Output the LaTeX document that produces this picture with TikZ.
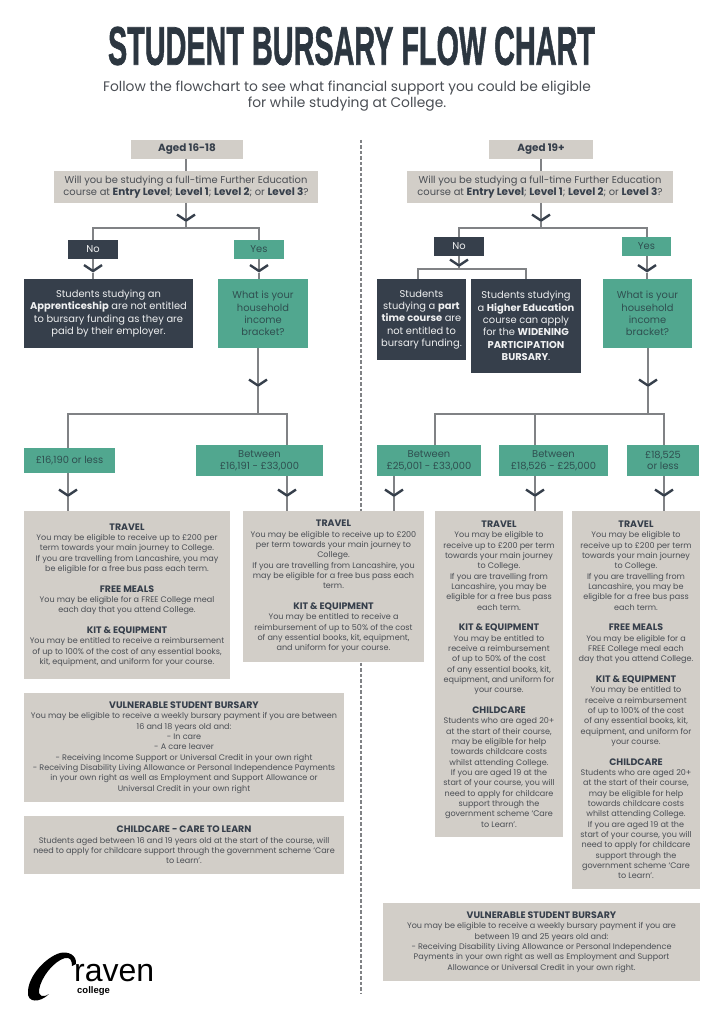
\documentclass[tikz,border=0pt]{standalone}
\usepackage{fontspec}
\usepackage{graphicx}
\setmainfont{Poppins}
\newfontfamily\logofont{Liberation Sans}
\newfontfamily\titlefont[FakeBold=1.5]{Liberation Sans Bold}
\usetikzlibrary{arrows.meta,calc}
\definecolor{beige}{HTML}{D2CEC8}
\definecolor{darkbox}{HTML}{363F4B}
\definecolor{greenbox}{HTML}{51A78F}
\definecolor{wirecol}{HTML}{808285}
\definecolor{bodytxt}{HTML}{4A4E54}
\definecolor{greentxt}{HTML}{2F4F50}
\definecolor{titlecol}{HTML}{2C3640}
\newcommand{\hd}[1]{{\fontsize{9.4}{10.33}\bfseries\selectfont\color{darkbox}#1}}
\newcommand{\lv}[1]{{\fontsize{10.4}{11.5}\bfseries\selectfont\color{darkbox}#1}}
\tikzset{
  x=1pt,y=-1pt,
  boxbase/.style={anchor=north west,inner sep=0pt,outer sep=0pt,align=center},
  size/.style 2 args={minimum width=#1 pt,minimum height=#2 pt},
  beigebox/.style={boxbase,fill=beige,text=bodytxt,font=\fontsize{9.9}{12.3}\selectfont},
  agebox/.style={boxbase,fill=beige,text=darkbox,font=\fontsize{10.4}{11.8}\bfseries\selectfont},
  darkcard/.style={boxbase,fill=darkbox,text=white!92!darkbox,font=\fontsize{9.9}{12.4}\selectfont},
  greencard/.style={boxbase,fill=greenbox,text=greentxt,font=\fontsize{9.9}{12.4}\selectfont},
  bracket/.style={greencard,font=\fontsize{9.9}{11.6}\selectfont},
  infobox/.style={boxbase,fill=beige,text=bodytxt,font=\fontsize{8.05}{10.33}\selectfont,execute at begin node={\rule{0pt}{11pt}}},
  wire/.style={draw=wirecol,line width=1.5pt},
  flow/.style={wire,-{Straight Barb[length=6pt,width=18pt,line width=2.4pt,color=darkbox]}},
}
\begin{document}
\begin{tikzpicture}
\useasboundingbox (0,0) rectangle (724,1024);
% divider
\coordinate (divtop) at (361,140);
\coordinate (divbot) at (361,993);
\draw[wirecol,line width=1.3pt,dash pattern=on 3.5pt off 2pt] (divtop) -- (divbot);
% title
\node[inner sep=0pt,text=titlecol] (title) at (351.5,46) {\resizebox{487pt}{38pt}{\titlefont STUDENT BURSARY FLOW CHART}};
\node[inner sep=0pt,align=center,text=bodytxt,font=\fontsize{13.8}{16}\selectfont] (sub) at (347,96.5) {Follow the flowchart to see what financial support you could be eligible\\for while studying at College.};
% LEFT
\node[agebox,size={112}{19}] (age1) at (131,140) {Aged 16-18};
\node[beigebox,size={264}{32}] (q1) at (54,171) {Will you be studying a full-time Further Education\\course at \lv{Entry Level}; \lv{Level 1}; \lv{Level 2}; or \lv{Level 3}?};
\node[darkcard,size={50}{19}] (no1) at (68,240) {No};
\node[greencard,size={50}{19}] (yes1) at (234,240) {Yes};
\node[darkcard,size={169}{69}] (d1) at (24,279) {Students studying an\\\textbf{Apprenticeship} are not entitled\\to bursary funding as they are\\paid by their employer.};
\node[greencard,size={90}{69}] (g1) at (218,279) {What is your\\household\\income\\bracket?};
\node[greencard,size={91}{25}] (a1) at (24,448) {£16,190 or less};
\node[bracket,size={127}{31}] (a2) at (196,445) {Between\\£16,191 - £33,000};
% RIGHT
\node[agebox,size={104}{19}] (age2) at (489,140) {Aged 19+};
\node[beigebox,size={266}{32}] (q2) at (407,171) {Will you be studying a full-time Further Education\\course at \lv{Entry Level}; \lv{Level 1}; \lv{Level 2}; or \lv{Level 3}?};
\node[darkcard,size={50}{19}] (no2) at (434,237) {No};
\node[greencard,size={49}{19}] (yes2) at (622,237) {Yes};
\node[darkcard,size={89}{81}] (d2) at (377,279) {Students\\studying a \textbf{part}\\\textbf{time course} are\\not entitled to\\bursary funding.};
\node[darkcard,size={110}{94}] (d3) at (471,279) {Students studying\\a \textbf{Higher Education}\\course can apply\\for the \textbf{WIDENING}\\\textbf{PARTICIPATION}\\\textbf{BURSARY}.};
\node[greencard,size={89}{69}] (g2) at (603,279) {What is your\\household\\income\\bracket?};
\node[bracket,size={104}{31}] (b25) at (377,445) {Between\\£25,001 - £33,000};
\node[bracket,size={109}{31}] (b18) at (499,445) {Between\\£18,526 - £25,000};
\node[bracket,size={72}{31}] (b185) at (627,445) {£18,525\\or less};
% INFO
\node[infobox,size={206}{168}] (i1) at (24,511) {\hd{TRAVEL}\\You may be eligible to receive up to £200 per\\term towards your main journey to College.\\If you are travelling from Lancashire, you may\\be eligible for a free bus pass each term.\\[10.33pt]\hd{FREE MEALS}\\You may be eligible for a FREE College meal\\each day that you attend College.\\[10.33pt]\hd{KIT \& EQUIPMENT}\\You may be entitled to receive a reimbursement\\of up to 100\% of the cost of any essential books,\\kit, equipment, and uniform for your course.};
\node[infobox,size={181}{151}] (i2) at (243,511) {\hd{TRAVEL}\\You may be eligible to receive up to £200\\per term towards your main journey to\\College.\\If you are travelling from Lancashire, you\\may be eligible for a free bus pass each\\term.\\[10.33pt]\hd{KIT \& EQUIPMENT}\\You may be entitled to receive a\\reimbursement of up to 50\% of the cost\\of any essential books, kit, equipment,\\and uniform for your course.};
\node[infobox,size={128}{326}] (i3) at (435,511) {\hd{TRAVEL}\\You may be eligible to\\receive up to £200 per term\\towards your main journey\\to College.\\If you are travelling from\\Lancashire, you may be\\eligible for a free bus pass\\each term.\\[10.33pt]\hd{KIT \& EQUIPMENT}\\You may be entitled to\\receive a reimbursement\\of up to 50\% of the cost\\of any essential books, kit,\\equipment, and uniform for\\your course.\\[10.33pt]\hd{CHILDCARE}\\Students who are aged 20+\\at the start of their course,\\may be eligible for help\\towards childcare costs\\whilst attending College.\\If you are aged 19 at the\\start of your course, you will\\need to apply for childcare\\support through the\\government scheme `Care\\to Learn'.};
\node[infobox,size={128}{378}] (i4) at (572,511) {\hd{TRAVEL}\\You may be eligible to\\receive up to £200 per term\\towards your main journey\\to College.\\If you are travelling from\\Lancashire, you may be\\eligible for a free bus pass\\each term.\\[10.33pt]\hd{FREE MEALS}\\You may be eligible for a\\FREE College meal each\\day that you attend College.\\[10.33pt]\hd{KIT \& EQUIPMENT}\\You may be entitled to\\receive a reimbursement\\of up to 100\% of the cost\\of any essential books, kit,\\equipment, and uniform for\\your course.\\[10.33pt]\hd{CHILDCARE}\\Students who are aged 20+\\at the start of their course,\\may be eligible for help\\towards childcare costs\\whilst attending College.\\If you are aged 19 at the\\start of your course, you will\\need to apply for childcare\\support through the\\government scheme `Care\\to Learn'.};
\node[infobox,size={320}{109}] (v1) at (24,693) {\hd{VULNERABLE STUDENT BURSARY}\\You may be eligible to receive a weekly bursary payment if you are between\\16 and 18 years old and:\\- In care\\- A care leaver\\- Receiving Income Support or Universal Credit in your own right\\- Receiving Disability Living Allowance or Personal Independence Payments\\in your own right as well as Employment and Support Allowance or\\Universal Credit in your own right};
\node[infobox,size={320}{58}] (c1) at (24,816) {\hd{CHILDCARE - CARE TO LEARN}\\Students aged between 16 and 19 years old at the start of the course, will\\need to apply for childcare support through the government scheme `Care\\to Learn'.};
\node[infobox,size={317}{78}] (v2) at (383,903) {\hd{VULNERABLE STUDENT BURSARY}\\You may be eligible to receive a weekly bursary payment if you are\\between 19 and 25 years old and:\\- Receiving Disability Living Allowance or Personal Independence\\Payments in your own right as well as Employment and Support\\Allowance or Universal Credit in your own right.};
% junctions and chevron tips
\coordinate (t1) at (186,222); \coordinate (j1) at (186,228);
\coordinate (t2) at (93,272.5); \coordinate (t2b) at (259,272.5);
\coordinate (t3) at (258,387); \coordinate (j3) at (258,414);
\coordinate (j3a) at (68,414); \coordinate (j3b) at (287,414);
\coordinate (t4) at (68,497); \coordinate (t5) at (287,497);
\coordinate (t6) at (541,222); \coordinate (j6) at (541,228);
\coordinate (t7) at (459,267); \coordinate (j7) at (459,269);
\coordinate (j7a) at (418,269); \coordinate (j7b) at (526,269);
\coordinate (t7b) at (647,272.5);
\coordinate (t8) at (648,387); \coordinate (j8) at (648,414);
\coordinate (j8a) at (435,414); \coordinate (j8b) at (535,414); \coordinate (j8c) at (664,414);
\coordinate (t9) at (394,497); \coordinate (t10) at (535,497); \coordinate (t11) at (664,497);
% left connectors
\draw[wire] (age1.south -| t1) -- (q1.north -| t1);
\draw[flow] (q1.south -| t1) -- (t1);
\draw[wire] (t1) -- (j1);
\draw[wire] (no1.north -| t2) |- (j1) -| (yes1.north -| t2b);
\draw[flow] (no1.south -| t2) -- (t2);
\draw[wire] (t2) -- (d1.north -| t2);
\draw[flow] (yes1.south -| t2b) -- (t2b);
\draw[wire] (t2b) -- (g1.north -| t2b);
\draw[flow] (g1.south -| t3) -- (t3);
\draw[wire] (t3) -- (j3);
\draw[wire] (a1.north -| j3a) -- (j3a) -- (j3b) -- (a2.north -| j3b);
\draw[flow] (a1.south -| t4) -- (t4);
\draw[wire] (t4) -- (i1.north -| t4);
\draw[flow] (a2.south -| t5) -- (t5);
\draw[wire] (t5) -- (i2.north -| t5);
% right connectors
\draw[wire] (age2.south -| t6) -- (q2.north -| t6);
\draw[flow] (q2.south -| t6) -- (t6);
\draw[wire] (t6) -- (j6);
\draw[wire] (no2.north -| t7) |- (j6) -| (yes2.north -| t7b);
\draw[flow] (no2.south -| t7) -- (t7);
\draw[wire] (t7) -- (j7);
\draw[wire] (d2.north -| j7a) -- (j7a) -- (j7b) -- (d3.north -| j7b);
\draw[flow] (yes2.south -| t7b) -- (t7b);
\draw[wire] (t7b) -- (g2.north -| t7b);
\draw[flow] (g2.south -| t8) -- (t8);
\draw[wire] (t8) -- (j8);
\draw[wire] (b25.north -| j8a) -- (j8a) -- (j8c) -- (b185.north -| j8c);
\draw[wire] (j8b) -- (b18.north -| j8b);
\draw[flow] (b25.south -| t9) -- (t9);
\draw[wire] (t9) -- (i2.north -| t9);
\draw[flow] (b18.south -| t10) -- (t10);
\draw[wire] (t10) -- (i3.north -| t10);
\draw[flow] (b185.south -| t11) -- (t11);
\draw[wire] (t11) -- (i4.north -| t11);
% logo
\fill[black] (76,964) .. controls (77,955) and (68,951) .. (60,953) .. controls (46,957) and (28,976) .. (28,992) .. controls (27,1003) and (40,1003) .. (49,994) .. controls (43,998) and (38,996) .. (39,990) .. controls (41,977) and (54,961) .. (65,958) .. controls (70,957) and (72,960) .. (72,966) -- cycle;
\node[anchor=base west,inner sep=0pt,font=\logofont\fontsize{32}{32}\selectfont] (logoa) at (74,981) {raven};
\node[anchor=base west,inner sep=0pt,font=\logofont\bfseries\fontsize{9.5}{10}\selectfont] (logob) at (77,993) {college};
\end{tikzpicture}
\end{document}
